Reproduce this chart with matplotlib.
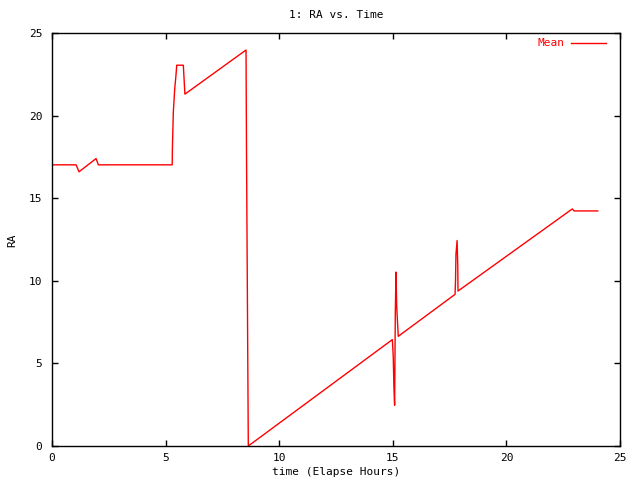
import matplotlib
matplotlib.use("Agg")
import matplotlib.pyplot as plt

# vertices of the "Mean" RA trace
hours = [0.0, 1.06, 1.19, 1.94, 2.04, 5.29, 5.30, 5.34, 5.40, 5.46, 5.49, 5.78, 5.85,
         8.54, 8.56, 8.64, 14.98, 15.02, 15.05, 15.08, 15.11, 15.14, 15.17, 15.24,
         17.74, 17.76, 17.78, 17.83, 17.86, 17.87, 22.90, 22.98, 24.02]
ra = [17.02, 17.02, 16.6, 17.4, 17.02, 17.02, 18.07, 20.2, 21.6, 22.5, 23.05, 23.05, 21.3,
      23.97, 18.05, 0.0, 6.44, 5.4, 3.5, 2.47, 8.0, 10.53, 8.5, 6.64,
      9.18, 9.96, 11.6, 12.44, 10.87, 9.38, 14.35, 14.23, 14.23]

x_ticks = [0, 5, 10, 15, 20, 25]
y_ticks = [0, 5, 10, 15, 20, 25]

plt.rcParams['font.family'] = 'DejaVu Sans Mono'
plt.rcParams['font.size'] = 8

fig = plt.figure(figsize=(6.4, 4.8), dpi=100)
ax = fig.add_axes([52 / 640, 34 / 480, 568 / 640, 413 / 480])

ax.plot(hours, ra, color='red', linewidth=1, label='Mean')

ax.set_xlim(0, 25)
ax.set_ylim(0, 25)
ax.set_xticks(x_ticks)
ax.set_yticks(y_ticks)
ax.tick_params(direction='in', top=True, right=True, length=4, width=1)
ax.tick_params(axis='x', pad=5)
ax.tick_params(axis='y', pad=7)
for s in ax.spines.values():
    s.set_linewidth(1)

fig.text(0.5 * (52 + 620) / 640, 1 - 15 / 480, "1: RA vs. Time", ha='center', va='center')
fig.text(0.5 * (52 + 620) / 640, 1 - 472 / 480, "time (Elapse Hours)", ha='center', va='center')
fig.text(12 / 640, 1 - 240 / 480, "RA", ha='center', va='center', rotation=90)
ax.legend(loc='upper right', frameon=False, markerfirst=False, handlelength=3.1,
          handletextpad=0.6, borderaxespad=0, labelcolor='red',
          bbox_to_anchor=(1 - 10 / 568, 1 - 1 / 413))

fig.savefig("out.png", dpi=100)
